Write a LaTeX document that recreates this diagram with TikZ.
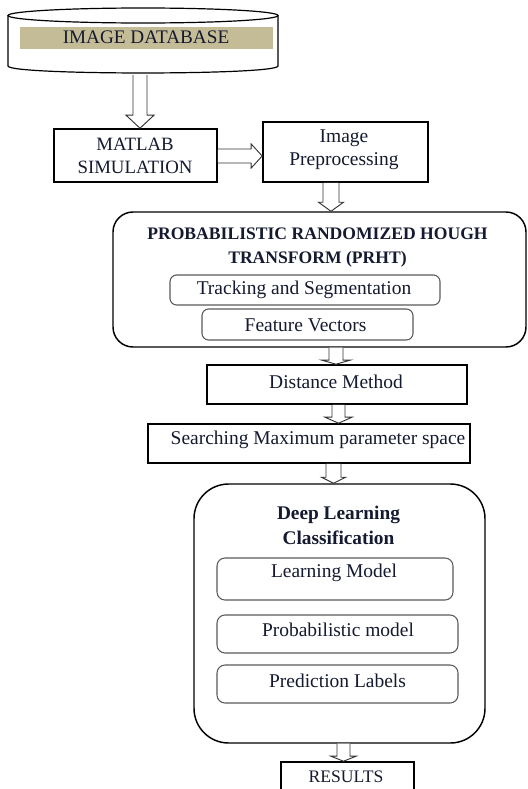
\documentclass[tikz,border=0pt]{standalone}
\usepackage{fontspec}
\setmainfont{Liberation Serif}
\usetikzlibrary{calc,fit}
\definecolor{tanband}{RGB}{196,188,150}
\definecolor{txt}{RGB}{22,26,48}
\definecolor{inner}{RGB}{90,90,90}
\newcommand{\vharrow}[5]{%
  \draw[harrow] ($(#1)+(-#3,0)$) -- ($(#2)+(-#3,-#5)$) -- ($(#2)+(-#4,-#5)$) -- (#2)
     -- ($(#2)+(#4,-#5)$) -- ($(#2)+(#3,-#5)$) -- ($(#1)+(#3,0)$);}
\newcommand{\hharrow}[5]{%
  \draw[harrow] ($(#1)+(0,-#3)$) -- ($(#2)+(-#5,-#3)$) -- ($(#2)+(-#5,-#4)$) -- (#2)
     -- ($(#2)+(-#5,#4)$) -- ($(#2)+(-#5,#3)$) -- ($(#1)+(0,#3)$);}
\tikzset{
  box/.style={draw=black, line width=1.2pt, inner sep=0pt, fill=white},
  bigbox/.style={draw=black, line width=1.1pt, inner sep=0pt, rounded corners=15pt, fill=white},
  subbox/.style={draw=inner, line width=0.8pt, inner sep=0pt, rounded corners=5pt, fill=white},
  harrow/.style={draw=black!80, line width=0.7pt, fill=white},
  lbl/.style={text=txt, inner sep=0pt, align=center, font=\fontsize{14.6}{18}\selectfont},
  ttl/.style={text=txt, inner sep=0pt, align=center, font=\bfseries\fontsize{13.2}{18.5}\selectfont},
}
\begin{document}
\begin{tikzpicture}[x=0.75pt,y=-0.75pt]
\useasboundingbox (0,0) rectangle (528,789);
\clip (0,0) rectangle (528,789);
% database cylinder
\draw[line width=0.9pt, fill=white] (8,15.5) -- (8,66) .. controls (8,75.3) and (278,75.3) .. (278,66) -- (278,15.5);
\draw[line width=0.9pt, fill=white] (143,15.5) ellipse [x radius=135, y radius=7.5];
\node[fit={(20,27) (273,49)}, fill=tanband, inner sep=0pt] (dbband) {};
\node[lbl, font=\fontsize{14.4}{18}\selectfont] (dbtext) at (146,37) {IMAGE DATABASE};
\coordinate (db) at (140,75);
% boxes
\node[box, fit={(54,129) (217,182)}] (matlab) {};
\node[lbl, font=\fontsize{14.1}{17.3}\selectfont] (matlabt) at (135,156) {MATLAB\\SIMULATION};
\node[box, fit={(263,122) (428,182)}] (prep) {};
\node[lbl, font=\fontsize{14.6}{17.3}\selectfont] (prept) at (344,150) {Image\\Preprocessing};
\node[bigbox, fit={(113,212) (526,347)}] (prht) {};
\node[ttl] (prhtt) at (317.5,247.5) {PROBABILISTIC RANDOMIZED HOUGH\\TRANSFORM (PRHT)};
\node[subbox, fit={(170,275) (440,305)}] (track) {};
\node[lbl] (trackt) at (304,290) {Tracking and Segmentation};
\node[subbox, fit={(202,309) (413,340)}] (feat) {};
\node[lbl] (featt) at (305.5,325) {Feature Vectors};
\node[box, fit={(207,365) (467,404)}] (dist) {};
\node[lbl] (distt) at (336,382) {Distance Method};
\node[box, fit={(148,424) (470,463)}] (search) {};
\node[lbl] (searcht) at (318,440) {Searching Maximum parameter space};
\node[bigbox, rounded corners=26pt, fit={(194,484) (485,743)}] (dl) {};
\node[ttl, font=\bfseries\fontsize{14.5}{18.75}\selectfont] (dlt) at (338.5,525.5) {Deep Learning\\Classification};
\node[subbox, rounded corners=6pt, fit={(217,558) (453,600)}] (learn) {};
\node[lbl] (learnt) at (334,573) {Learning Model};
\node[subbox, rounded corners=6pt, fit={(217,615) (458,653)}] (prob) {};
\node[lbl] (probt) at (338,630) {Probabilistic model};
\node[subbox, rounded corners=6pt, fit={(217,665) (458,703)}] (pred) {};
\node[lbl] (predt) at (337.5,681) {Prediction Labels};
\node[box, fit={(281,762) (414,805)}] (results) {};
\node[lbl, font=\fontsize{13.2}{18}\selectfont] (resultst) at (346,777) {RESULTS};
% arrow axes
\coordinate (x1) at (140,0);
\coordinate (y2) at (0,156);
\coordinate (x3) at (331,0);
\coordinate (x4) at (336,0);
\coordinate (x5) at (338.5,0);
\coordinate (x6) at (333.5,0);
\coordinate (x7) at (343.5,0);
% hollow arrows
\vharrow{db}{matlab.north -| x1}{7}{14}{13}
\hharrow{matlab.east |- y2}{prep.west |- y2}{7}{12}{11}
\vharrow{prep.south -| x3}{prht.north -| x3}{8}{12.5}{9}
\vharrow{prht.south -| x4}{dist.north -| x4}{7}{14}{4}
\vharrow{dist.south -| x5}{search.north -| x5}{6.5}{13.5}{6}
\vharrow{search.south -| x6}{dl.north -| x6}{7.5}{12}{6}
\vharrow{dl.south -| x7}{results.north -| x7}{6.5}{12.5}{5}
\end{tikzpicture}
\end{document}
